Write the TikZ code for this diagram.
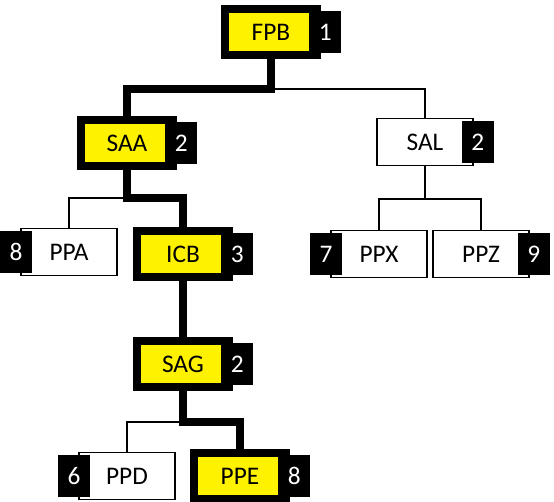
\documentclass[tikz,border=0pt]{standalone}
\usepackage{fontspec}
\setmainfont{Carlito}
\usetikzlibrary{positioning}
\tikzset{
    hot/.style={draw=black, fill=yellow, line width=6pt, minimum width=69pt, minimum height=34.5pt, inner sep=0pt},
    cold/.style={draw=black, fill=white, line width=0.9pt, minimum width=72pt, minimum height=35pt, inner sep=0pt},
    tab/.style={fill=black, text=white, minimum width=24pt, minimum height=31pt, inner sep=0pt},
    hotline/.style={line width=6pt},
    coldline/.style={line width=0.9pt},
    fork/.style={to path={-- ++(0,#1) -| (\tikztotarget)}}
}
\begin{document}
\begin{tikzpicture}[x=0.75pt, y=-0.75pt, every node/.style={font=\fontsize{19}{22}\selectfont}]
  \useasboundingbox (0,0) rectangle (554,502);
  % top
  \node[hot] (fpb) at (271,32) {FPB};
  \node[tab, right=-9pt of fpb] (fpbn) {1};
  % second row
  \node[hot] (saa) at (127,143) {SAA};
  \node[tab, right=-9pt of saa] (saan) {2};
  \node[cold] (sal) at (425,142) {SAL};
  \node[tab, right=-9pt of sal] (saln) {2};
  % third row
  \node[cold] (ppa) at (69,252) {PPA};
  \node[tab, left=-9pt of ppa] (ppan) {8};
  \node[hot] (icb) at (183,254) {ICB};
  \node[tab, right=-9pt of icb] (icbn) {3};
  \node[cold] (ppx) at (379,254) {PPX};
  \node[tab, left=-9pt of ppx] (ppxn) {7};
  \node[cold] (ppz) at (481,254) {PPZ};
  \node[tab, right=-9pt of ppz] (ppzn) {9};
  % fourth row
  \node[hot] (sag) at (183,364) {SAG};
  \node[tab, right=-9pt of sag] (sagn) {2};
  % bottom
  \node[cold] (ppd) at (127,476) {PPD};
  \node[tab, left=-9pt of ppd] (ppdn) {6};
  \node[hot] (ppe) at (240,476) {PPE};
  \node[tab, right=-9pt of ppe] (ppen) {8};
  % connectors
  \draw[coldline] (fpb.south) ++(0,30) -| (sal.north);
  \draw[coldline] (saa.south) ++(0,28) -| (ppa.north);
  \draw[coldline] (sal.south) to[fork=33] (ppx.north);
  \draw[coldline] (sal.south) ++(0,33) -| (ppz.north);
  \draw[coldline] (sag.south) ++(0,31) -| (ppd.north);
  \draw[hotline] (fpb.south) to[fork=30] (saa.north);
  \draw[hotline] (saa.south) to[fork=28] (icb.north);
  \draw[hotline] (icb) -- (sag);
  \draw[hotline] (sag.south) to[fork=31] (ppe.north);
\end{tikzpicture}
\end{document}
